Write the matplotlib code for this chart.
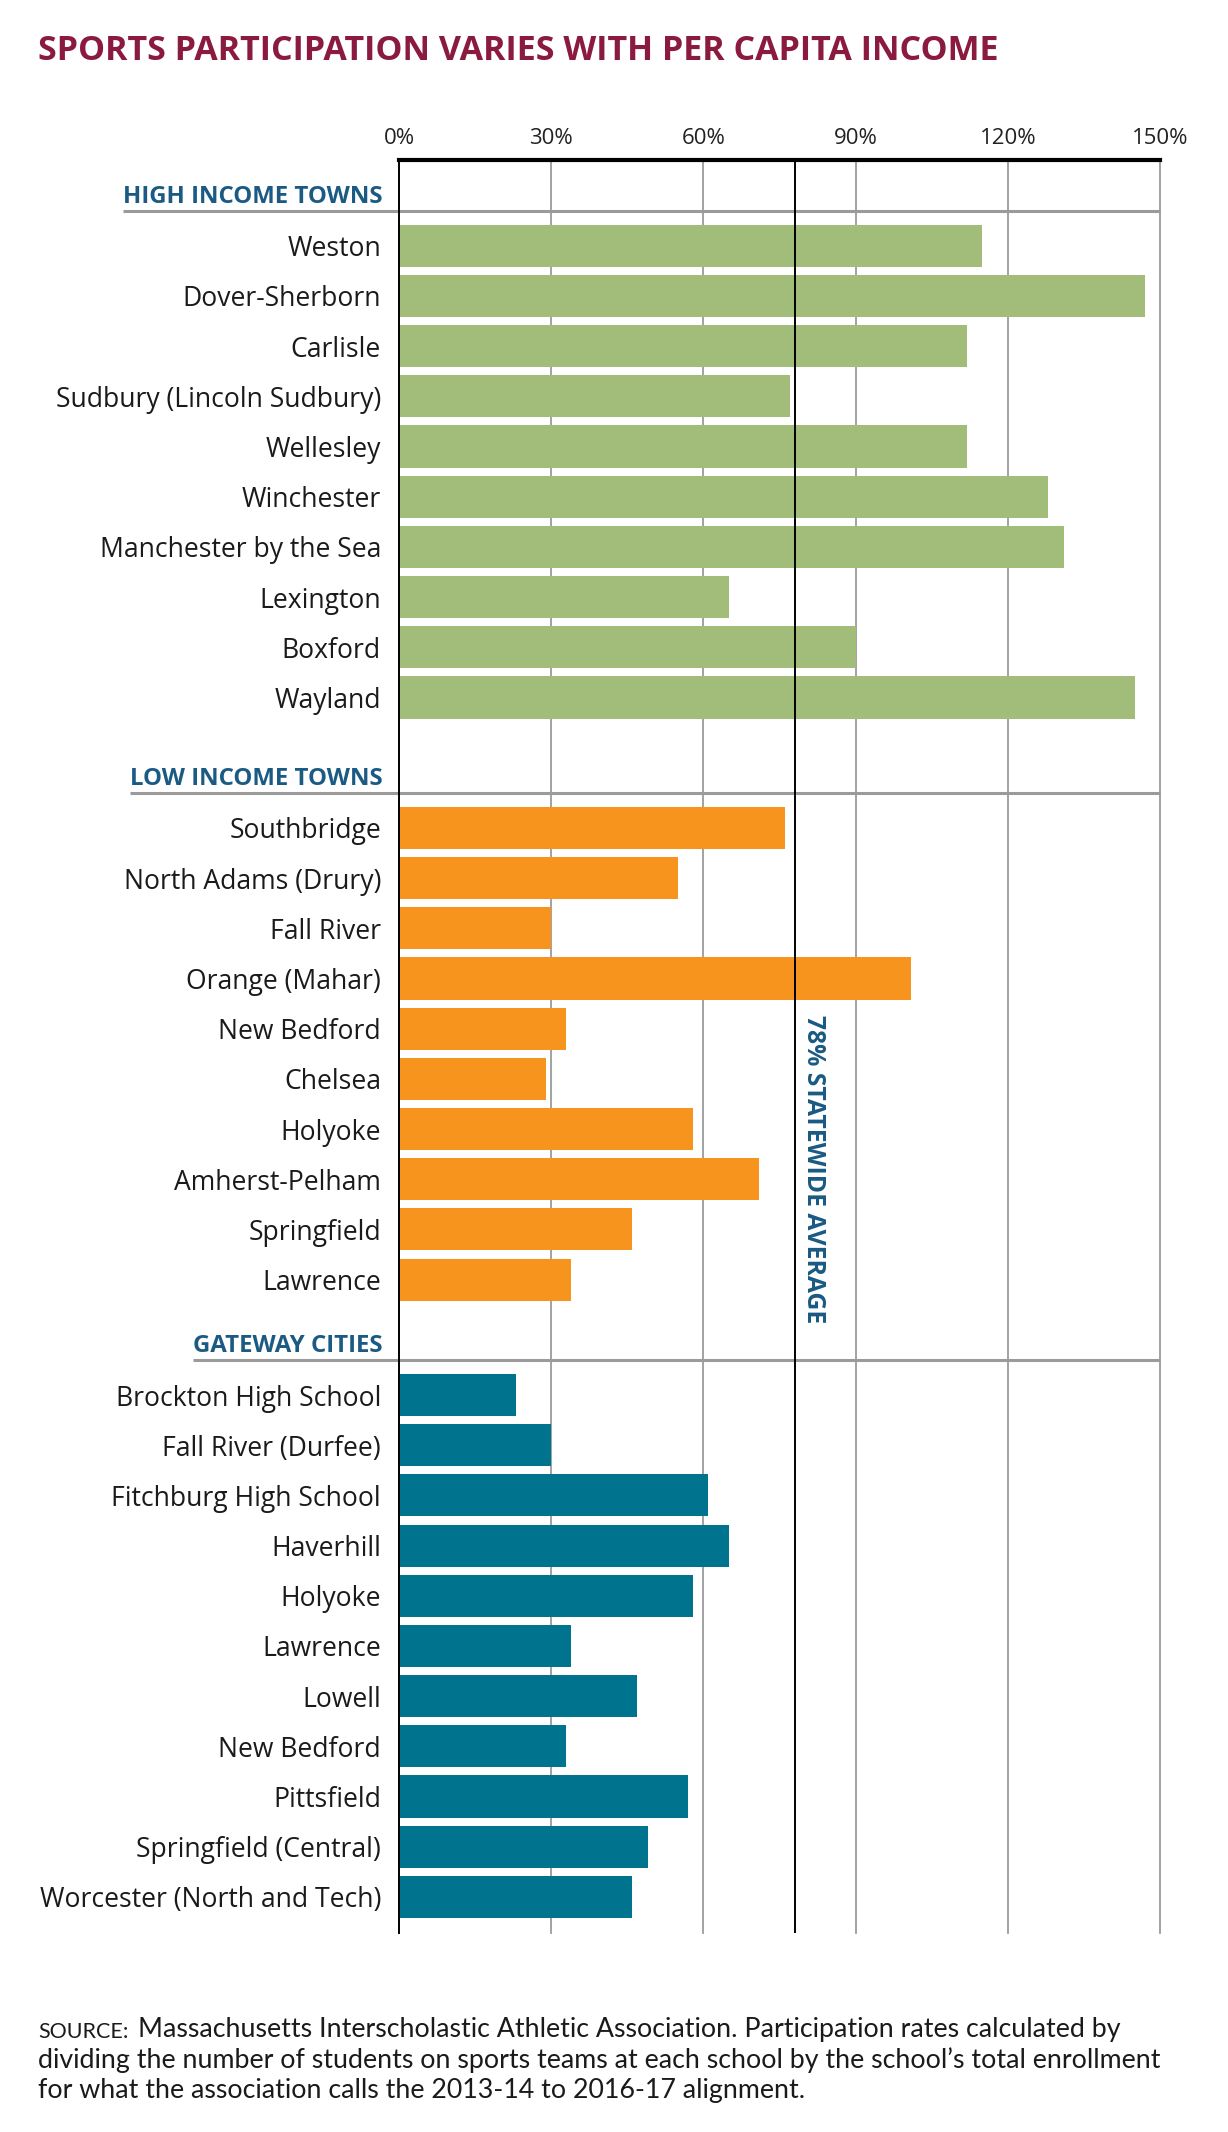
import matplotlib
matplotlib.use("Agg")
import matplotlib.pyplot as plt
import numpy as np

# ---------------- data ----------------
high_names = ["Weston", "Dover-Sherborn", "Carlisle", "Sudbury (Lincoln Sudbury)", "Wellesley",
              "Winchester", "Manchester by the Sea", "Lexington", "Boxford", "Wayland"]
high_vals = [115, 147, 112, 77, 112, 128, 131, 65, 90, 145]

low_names = ["Southbridge", "North Adams (Drury)", "Fall River", "Orange (Mahar)", "New Bedford",
             "Chelsea", "Holyoke", "Amherst-Pelham", "Springfield", "Lawrence"]
low_vals = [76, 55, 30, 101, 33, 29, 58, 71, 46, 34]

gate_names = ["Brockton High School", "Fall River (Durfee)", "Fitchburg High School", "Haverhill",
              "Holyoke", "Lawrence", "Lowell", "New Bedford", "Pittsfield", "Springfield (Central)",
              "Worcester (North and Tech)"]
gate_vals = [23, 30, 61, 65, 58, 34, 47, 33, 57, 49, 46]

group_titles = ["HIGH INCOME TOWNS", "LOW INCOME TOWNS", "GATEWAY CITIES"]
statewide_avg = 78
xticks = [0, 30, 60, 90, 120, 150]

title = "SPORTS PARTICIPATION VARIES WITH PER CAPITA INCOME"
avg_label = "78% STATEWIDE AVERAGE"
source_lead = "SOURCE:"
source_lines = ["Massachusetts Interscholastic Athletic Association. Participation rates calculated by",
                "dividing the number of students on sports teams at each school by the school\u2019s total enrollment",
                "for what the association calls the 2013-14 to 2016-17 alignment."]

# ---------------- style ----------------
GREEN = "#A2BD79"
ORANGE = "#F7941E"
TEAL = "#00738F"
TITLE_RED = "#8B1A3F"
HEAD_BLUE = "#1A5A83"
GRID = "#9B9B9B"
FONT = "Open Sans"

W, H = 1228, 2132
fig = plt.figure(figsize=(W / 100, H / 100), dpi=100)
fig.patch.set_facecolor("white")

ax_left, ax_right, ax_top, ax_bot = 399.0, 1160.0, 160, 1933
ax = fig.add_axes([ax_left / W, 1 - ax_bot / H, (ax_right - ax_left) / W, (ax_bot - ax_top) / H])

group_starts = [0.0, 11.6, 22.9]
groups = [(high_names, high_vals, GREEN), (low_names, low_vals, ORANGE), (gate_names, gate_vals, TEAL)]

ax.set_xlim(0, 150)
ax.set_ylim(33.62, -1.71)

all_pos, all_names = [], []
for (names, vals, col), start in zip(groups, group_starts):
    pos = start + np.arange(len(names))
    ax.barh(pos, vals, height=0.84, color=col, zorder=2)
    all_pos.extend(pos)
    all_names.extend(names)

# gridlines
for xt in xticks[1:]:
    ax.axvline(xt, color=GRID, lw=1.3, zorder=1, clip_on=False)
ax.axvline(statewide_avg, color="black", lw=1.4, zorder=3)

# spines
for s in ["right", "bottom"]:
    ax.spines[s].set_visible(False)
ax.spines["top"].set_linewidth(3.0)
ax.spines["top"].set_color("black")
ax.spines["left"].set_linewidth(1.4)
ax.spines["left"].set_color("black")
ax.spines["left"].set_zorder(4)

ax.xaxis.set_ticks_position("top")
ax.set_xticks(xticks)
ax.set_xticklabels([f"{v}%" for v in xticks], fontsize=16, family=FONT, color="#222222")
ax.tick_params(axis="x", length=0, pad=8)

ax.set_yticks(all_pos)
ax.set_yticklabels(all_names, fontsize=19.1, family=FONT, color="#1a1a1a")
ax.tick_params(axis="y", length=0, pad=13)

# headings
heads = []
for t, start in zip(group_titles, group_starts):
    h = ax.text(-3.3, start - 0.855, t, ha="right", va="baseline", fontsize=17.3, fontweight="bold",
                family=FONT, color=HEAD_BLUE, clip_on=False)
    heads.append((h, start))

fig.canvas.draw()
inv = ax.transData.inverted()
for h, start in heads:
    bb = h.get_window_extent()
    x0 = inv.transform((bb.x0, bb.y0))[0]
    ax.plot([x0, 150], [start - 0.70, start - 0.70], color=GRID, lw=2.2, clip_on=False, zorder=1,
            solid_capstyle="butt")

# statewide label
ax.text(statewide_avg + 3.8, 18.4, avg_label, rotation=270, ha="center", va="center",
        fontsize=17.8, fontweight="bold", family=FONT, color=HEAD_BLUE, zorder=5)

# title
fig.text(38 / W, 1 - 60 / H, title, ha="left", va="baseline", fontsize=24.5, fontweight="bold",
         family=FONT, color=TITLE_RED)

# source
lead = fig.text(38 / W, 1 - 2038 / H, source_lead, ha="left", va="baseline", fontsize=15.5,
                family="Lato", color="#1a1a1a")
ax.annotate(source_lines[0], xy=(1, 0), xycoords=lead, xytext=(7, 0), textcoords="offset points",
            ha="left", va="bottom", fontsize=19.3, family="Lato", color="#1a1a1a",
            annotation_clip=False)
for i, line in enumerate(source_lines[1:]):
    fig.text(38 / W, 1 - (2068 + 30 * i) / H, line, ha="left", va="baseline", fontsize=19.3,
             family="Lato", color="#1a1a1a")

fig.savefig("out.png", dpi=100, facecolor="white")
